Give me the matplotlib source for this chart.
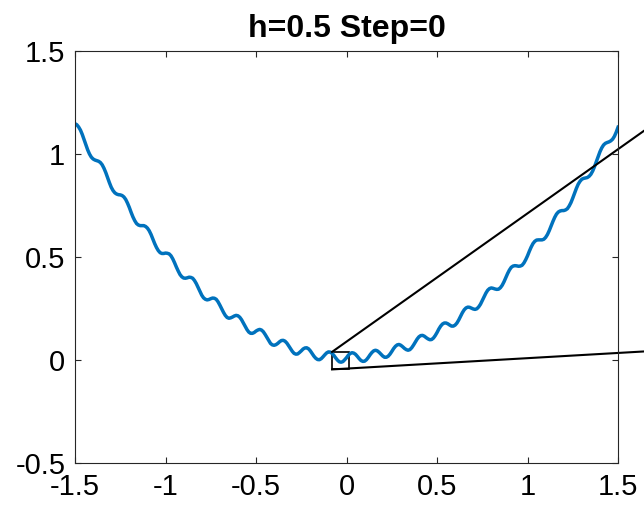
import numpy as np
import matplotlib
matplotlib.use("Agg")
import matplotlib.pyplot as plt
from matplotlib.ticker import FormatStrFormatter

# curve values, x runs -1.5 .. 1.5 in steps of 0.01
x_values = np.linspace(-1.5, 1.5, 301)
y_values = [
    1.146, 1.141, 1.130, 1.115, 1.094, 1.069, 1.043, 1.019, 0.999, 0.984,
    0.975, 0.970, 0.967, 0.964, 0.958, 0.947, 0.930, 0.909, 0.884, 0.860,
    0.838, 0.822, 0.811, 0.805, 0.802, 0.801, 0.798, 0.791, 0.779, 0.761,
    0.740, 0.716, 0.694, 0.676, 0.662, 0.655, 0.652, 0.652, 0.652, 0.648,
    0.640, 0.627, 0.609, 0.587, 0.565, 0.546, 0.531, 0.521, 0.517, 0.517,
    0.519, 0.518, 0.515, 0.506, 0.491, 0.472, 0.451, 0.432, 0.415, 0.404,
    0.398, 0.397, 0.399, 0.402, 0.401, 0.397, 0.386, 0.371, 0.352, 0.333,
    0.315, 0.302, 0.295, 0.292, 0.294, 0.298, 0.301, 0.300, 0.295, 0.283,
    0.267, 0.249, 0.232, 0.217, 0.207, 0.203, 0.205, 0.209, 0.214, 0.217,
    0.215, 0.208, 0.196, 0.180, 0.163, 0.148, 0.136, 0.130, 0.130, 0.134,
    0.141, 0.146, 0.149, 0.146, 0.138, 0.125, 0.110, 0.094, 0.081, 0.074,
    0.072, 0.075, 0.081, 0.089, 0.095, 0.096, 0.092, 0.083, 0.070, 0.056,
    0.043, 0.033, 0.029, 0.030, 0.037, 0.045, 0.054, 0.059, 0.060, 0.055,
    0.045, 0.032, 0.019, 0.009, 0.003, 0.002, 0.007, 0.016, 0.026, 0.035,
    0.040, 0.039, 0.033, 0.023, 0.011, 0.000, -0.008, -0.010, -0.007, 0.002,
    0.012, 0.024, 0.032, 0.036, 0.034, 0.028, 0.018, 0.007, -0.002, -0.006,
    -0.005, 0.002, 0.013, 0.026, 0.037, 0.045, 0.048, 0.045, 0.038, 0.029,
    0.020, 0.014, 0.014, 0.019, 0.029, 0.042, 0.056, 0.067, 0.074, 0.076,
    0.072, 0.065, 0.057, 0.051, 0.048, 0.051, 0.060, 0.073, 0.088, 0.102,
    0.113, 0.119, 0.120, 0.116, 0.109, 0.103, 0.099, 0.100, 0.107, 0.119,
    0.134, 0.151, 0.165, 0.175, 0.180, 0.180, 0.176, 0.170, 0.165, 0.165,
    0.170, 0.180, 0.195, 0.213, 0.230, 0.244, 0.253, 0.257, 0.256, 0.252,
    0.248, 0.246, 0.249, 0.258, 0.271, 0.289, 0.308, 0.325, 0.339, 0.347,
    0.350, 0.348, 0.345, 0.343, 0.344, 0.351, 0.363, 0.380, 0.400, 0.420,
    0.437, 0.450, 0.456, 0.458, 0.457, 0.455, 0.456, 0.460, 0.471, 0.487,
    0.506, 0.528, 0.548, 0.565, 0.576, 0.582, 0.583, 0.583, 0.583, 0.586,
    0.595, 0.609, 0.628, 0.650, 0.672, 0.692, 0.708, 0.718, 0.723, 0.725,
    0.725, 0.728, 0.734, 0.747, 0.764, 0.786, 0.810, 0.833, 0.853, 0.867,
    0.877, 0.881, 0.883, 0.885, 0.891, 0.901, 0.917, 0.938, 0.962, 0.987,
    1.010, 1.029, 1.043, 1.051, 1.055, 1.058, 1.063, 1.071, 1.085, 1.105,
    1.129,
]

x_ticks = [-1.5, -1, -0.5, 0, 0.5, 1, 1.5]
y_ticks = [-0.5, 0, 0.5, 1, 1.5]
title = 'h=0.5 Step=0'

# zoom box around the minimum and the (cut off) inset it points to
box_x = [-0.08, 0.015]
box_y = [-0.045, 0.04]
inset_x = 1.8
inset_y = [0.050, 1.209]

plt.rcParams['font.family'] = ['Liberation Sans', 'DejaVu Sans']
plt.rcParams['axes.unicode_minus'] = False

fig = plt.figure(figsize=(6.44, 5.13), dpi=100)
ax = fig.add_axes([0.1165, 0.0969, 0.8432, 0.8043])

ax.plot(x_values, y_values, color='#0072BD', lw=2.5)

ax.add_patch(plt.Rectangle((box_x[0], box_y[0]), box_x[1] - box_x[0], box_y[1] - box_y[0],
                           fill=False, ec='black', lw=1.2))
ax.plot([box_x[0], inset_x], [box_y[1], inset_y[1]], color='black', lw=1.5, clip_on=False)
ax.plot([box_x[0], inset_x], [box_y[0], inset_y[0]], color='black', lw=1.5, clip_on=False)

ax.set_xlim(x_ticks[0], x_ticks[-1])
ax.set_ylim(y_ticks[0], y_ticks[-1])
ax.set_xticks(x_ticks)
ax.set_yticks(y_ticks)
ax.xaxis.set_major_formatter(FormatStrFormatter('%g'))
ax.yaxis.set_major_formatter(FormatStrFormatter('%g'))
ax.tick_params(direction='in', length=4.5, width=0.8, labelsize=21, pad=7,
               top=True, right=True, colors='#262626', labelcolor='black')
for s in ax.spines.values():
    s.set_linewidth(0.8)
    s.set_color('#262626')
ax.set_title(title, fontsize=23, fontweight='bold', pad=10)

fig.savefig('out.png', dpi=100)
